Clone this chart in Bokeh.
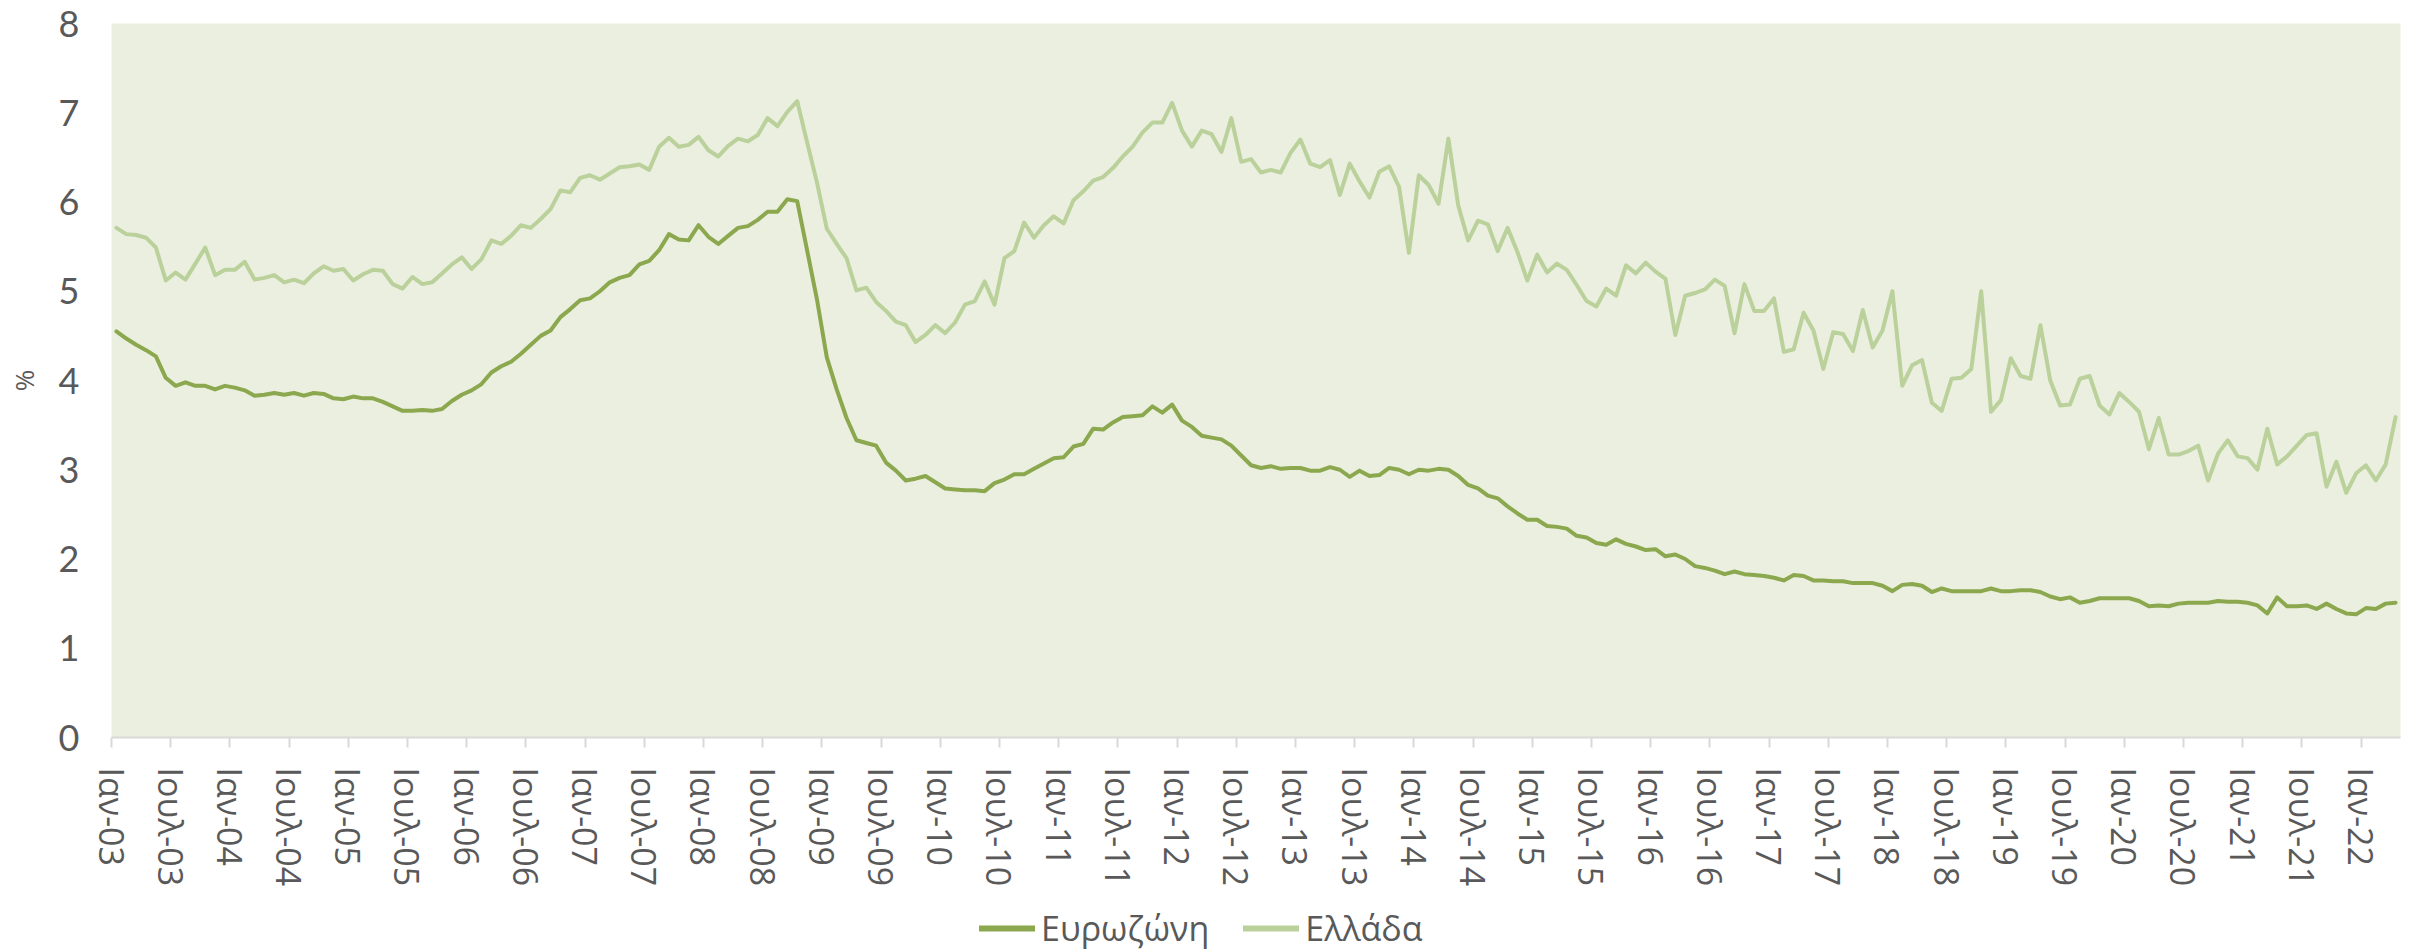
from bokeh.plotting import figure
from bokeh.layouts import column
from bokeh.models import (ColumnDataSource, Range1d, FixedTicker, Legend, LegendItem)
from bokeh.embed import file_html
from bokeh.resources import INLINE
import numpy as np

# Monthly data, Jan 2003 - Apr 2022 (%)
eurozone = [
    4.55, 4.47, 4.40, 4.34, 4.27, 4.03, 3.94, 3.98, 3.94, 3.94, 3.90, 3.94,
    3.92, 3.89, 3.83, 3.84, 3.86, 3.84, 3.86, 3.83, 3.86, 3.85, 3.80, 3.79,
    3.82, 3.80, 3.80, 3.76, 3.71, 3.66, 3.66, 3.67, 3.66, 3.68, 3.77, 3.84,
    3.89, 3.96, 4.09, 4.16, 4.21, 4.30, 4.40, 4.50, 4.56, 4.71, 4.80, 4.90,
    4.92, 5.00, 5.10, 5.15, 5.18, 5.30, 5.34, 5.46, 5.64, 5.58, 5.57, 5.74,
    5.61, 5.53, 5.62, 5.71, 5.73, 5.80, 5.89, 5.89, 6.03, 6.01, 5.46, 4.91,
    4.26, 3.90, 3.58, 3.33, 3.30, 3.27, 3.08, 2.99, 2.88, 2.90, 2.93, 2.86,
    2.79, 2.78, 2.77, 2.77, 2.76, 2.85, 2.89, 2.95, 2.95, 3.01, 3.07, 3.13,
    3.14, 3.26, 3.29, 3.46, 3.45, 3.53, 3.59, 3.60, 3.61, 3.71, 3.64, 3.73,
    3.55, 3.48, 3.38, 3.36, 3.34, 3.27, 3.16, 3.05, 3.02, 3.04, 3.01, 3.02,
    3.02, 2.99, 2.99, 3.03, 3.00, 2.92, 2.99, 2.93, 2.94, 3.02, 3.00, 2.95,
    3.00, 2.99, 3.01, 3.00, 2.93, 2.83, 2.79, 2.71, 2.68, 2.59, 2.51, 2.44,
    2.44, 2.37, 2.36, 2.34, 2.26, 2.24, 2.18, 2.16, 2.22, 2.17, 2.14, 2.10,
    2.11, 2.03, 2.05, 2.00, 1.92, 1.90, 1.87, 1.83, 1.86, 1.83, 1.82, 1.81,
    1.79, 1.76, 1.82, 1.81, 1.76, 1.76, 1.75, 1.75, 1.73, 1.73, 1.73, 1.70,
    1.64, 1.71, 1.72, 1.70, 1.63, 1.67, 1.64, 1.64, 1.64, 1.64, 1.67, 1.64,
    1.64, 1.65, 1.65, 1.63, 1.58, 1.55, 1.57, 1.51, 1.53, 1.56, 1.56, 1.56,
    1.56, 1.53, 1.47, 1.48, 1.47, 1.50, 1.51, 1.51, 1.51, 1.53, 1.52, 1.52,
    1.51, 1.48, 1.39, 1.57, 1.47, 1.47, 1.48, 1.44, 1.50, 1.44, 1.39, 1.38,
    1.45, 1.44, 1.50, 1.51,
]

greece = [
    5.71, 5.64, 5.63, 5.60, 5.49, 5.12, 5.21, 5.13, 5.31, 5.49, 5.18, 5.24,
    5.24, 5.33, 5.13, 5.15, 5.18, 5.10, 5.13, 5.09, 5.20, 5.28, 5.23, 5.25,
    5.12, 5.19, 5.24, 5.23, 5.08, 5.03, 5.16, 5.08, 5.10, 5.20, 5.30, 5.38,
    5.25, 5.36, 5.57, 5.53, 5.62, 5.74, 5.71, 5.81, 5.92, 6.13, 6.11, 6.27,
    6.30, 6.25, 6.32, 6.39, 6.40, 6.42, 6.36, 6.62, 6.72, 6.62, 6.64, 6.73,
    6.58, 6.51, 6.63, 6.71, 6.68, 6.75, 6.94, 6.85, 7.01, 7.13, 6.67, 6.22,
    5.70, 5.53, 5.37, 5.01, 5.04, 4.88, 4.78, 4.66, 4.62, 4.43, 4.51, 4.62,
    4.53, 4.65, 4.85, 4.89, 5.11, 4.85, 5.37, 5.45, 5.77, 5.60, 5.74, 5.84,
    5.76, 6.02, 6.12, 6.24, 6.28, 6.38, 6.51, 6.62, 6.78, 6.89, 6.89, 7.11,
    6.80, 6.62, 6.80, 6.76, 6.56, 6.94, 6.45, 6.48, 6.33, 6.36, 6.33, 6.55,
    6.70, 6.43, 6.39, 6.47, 6.08, 6.43, 6.23, 6.05, 6.34, 6.40, 6.17, 5.43,
    6.30, 6.19, 5.98, 6.71, 5.96, 5.57, 5.79, 5.75, 5.45, 5.71, 5.44, 5.12,
    5.41, 5.21, 5.31, 5.24, 5.07, 4.89, 4.83, 5.03, 4.95, 5.29, 5.20, 5.32,
    5.22, 5.14, 4.51, 4.95, 4.98, 5.02, 5.13, 5.06, 4.53, 5.08, 4.78, 4.78,
    4.92, 4.32, 4.35, 4.76, 4.56, 4.13, 4.54, 4.52, 4.33, 4.79, 4.37, 4.56,
    5.00, 3.94, 4.17, 4.23, 3.75, 3.66, 4.02, 4.03, 4.13, 5.00, 3.65, 3.78,
    4.25, 4.05, 4.02, 4.62, 4.00, 3.72, 3.73, 4.02, 4.05, 3.72, 3.62, 3.86,
    3.76, 3.65, 3.23, 3.58, 3.17, 3.17, 3.21, 3.27, 2.88, 3.18, 3.33, 3.15,
    3.13, 3.00, 3.46, 3.06, 3.15, 3.27, 3.39, 3.41, 2.81, 3.09, 2.74, 2.96,
    3.05, 2.88, 3.06, 3.59,
]

tick_labels = [
    "Ιαν-03", "Ιουλ-03", "Ιαν-04", "Ιουλ-04", "Ιαν-05", "Ιουλ-05",
    "Ιαν-06", "Ιουλ-06", "Ιαν-07", "Ιουλ-07", "Ιαν-08", "Ιουλ-08",
    "Ιαν-09", "Ιουλ-09", "Ιαν-10", "Ιουλ-10", "Ιαν-11", "Ιουλ-11",
    "Ιαν-12", "Ιουλ-12", "Ιαν-13", "Ιουλ-13", "Ιαν-14", "Ιουλ-14",
    "Ιαν-15", "Ιουλ-15", "Ιαν-16", "Ιουλ-16", "Ιαν-17", "Ιουλ-17",
    "Ιαν-18", "Ιουλ-18", "Ιαν-19", "Ιουλ-19", "Ιαν-20", "Ιουλ-20",
    "Ιαν-21", "Ιουλ-21", "Ιαν-22",
]
series_names = ["Ευρωζώνη", "Ελλάδα"]
series_colors = ["#8BA84E", "#BBD19B"]
y_ticks = [0, 1, 2, 3, 4, 5, 6, 7, 8]

n = len(eurozone)
x = np.arange(n) + 0.5  # each month sits in the middle of its category slot
src = ColumnDataSource(dict(x=x, ez=eurozone, gr=greece))

TEXT = "#595959"
W = 2412
H_MAIN, H_LEG = 893, 58

p = figure(width=W, height=H_MAIN, output_backend="svg", toolbar_location=None,
           x_range=Range1d(0, n), y_range=Range1d(0, 8),
           min_border_left=111, min_border_right=12, min_border_top=23,
           min_border_bottom=H_MAIN - 737)
p.border_fill_color = "white"
p.outline_line_color = None
p.background_fill_color = "#EBEFDF"
p.xgrid.visible = False
p.ygrid.visible = False

p.line("x", "ez", source=src, line_color=series_colors[0], line_width=4,
       line_join="round", line_cap="round")
p.line("x", "gr", source=src, line_color=series_colors[1], line_width=4,
       line_join="round", line_cap="round")

# x axis
tick_pos = [6 * k for k in range(len(tick_labels))]
p.xaxis.ticker = FixedTicker(ticks=tick_pos)
p.xaxis.major_label_overrides = {t: lab for t, lab in zip(tick_pos, tick_labels)}
p.xaxis.major_label_orientation = "vertical"
p.xaxis.major_label_text_font = "Open Sans"
p.xaxis.major_label_text_font_size = "34px"
p.xaxis.major_label_text_color = TEXT
p.xaxis.axis_line_color = "#D9D9D9"
p.xaxis.axis_line_width = 2
p.xaxis.major_tick_line_color = "#D9D9D9"
p.xaxis.major_tick_line_width = 2
p.xaxis.major_tick_in = 0
p.xaxis.major_tick_out = 10
p.xaxis.minor_tick_line_color = None
p.xaxis.major_label_standoff = 20

# y axis
p.yaxis.ticker = FixedTicker(ticks=y_ticks)
p.yaxis.axis_line_color = None
p.yaxis.major_tick_line_color = None
p.yaxis.minor_tick_line_color = None
p.yaxis.major_tick_in = 0
p.yaxis.major_tick_out = 0
p.yaxis.major_label_standoff = 32
p.yaxis.major_label_text_font = "Lato"
p.yaxis.major_label_text_font_size = "36px"
p.yaxis.major_label_text_color = TEXT
p.yaxis.axis_label = "%"
p.yaxis.axis_label_text_font = "Open Sans"
p.yaxis.axis_label_text_font_style = "normal"
p.yaxis.axis_label_text_font_size = "26px"
p.yaxis.axis_label_text_color = TEXT
p.yaxis.axis_label_standoff = 14

# legend strip below the chart (legend-only renderers sit outside the visible range)
lg = figure(width=W, height=H_LEG, output_backend="svg", toolbar_location=None,
            x_axis_type=None, y_axis_type=None, x_range=Range1d(0, 1),
            y_range=Range1d(0, 1), min_border=0)
lg.outline_line_color = None
lg.xgrid.visible = False
lg.ygrid.visible = False
offscreen = ColumnDataSource(dict(x=[-10, -9], y=[-10, -10]))
d_ez = lg.line("x", "y", source=offscreen, line_color=series_colors[0],
               line_width=6, line_cap="round")
d_gr = lg.line("x", "y", source=offscreen, line_color=series_colors[1],
               line_width=6, line_cap="round")
legend = Legend(items=[LegendItem(label=series_names[0], renderers=[d_ez]),
                       LegendItem(label=series_names[1], renderers=[d_gr])],
                orientation="horizontal", location=(868, 0),
                label_text_font="Open Sans", label_text_font_size="34px",
                label_text_color=TEXT, glyph_width=56, glyph_height=40,
                label_standoff=6, spacing=34, padding=0, margin=0,
                border_line_color=None, background_fill_alpha=0)
lg.add_layout(legend, "center")

layout = column(p, lg, spacing=0)
open("out.html", "w").write(file_html(layout, INLINE))
